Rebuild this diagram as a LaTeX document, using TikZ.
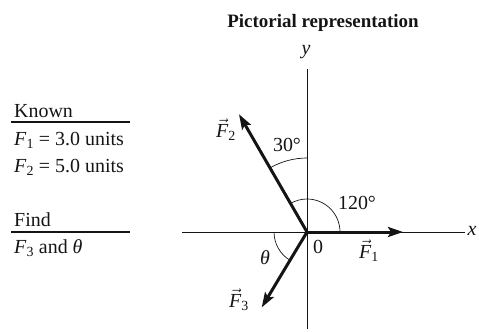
\documentclass[tikz,border=0pt]{standalone}
\usepackage{fontspec}
\setmainfont{Liberation Serif}
\usetikzlibrary{arrows.meta,positioning,calc}
\definecolor{ink}{RGB}{20,20,20}
\newcommand{\vF}[1]{$\vec{\mbox{\textit{F}}}$\textsubscript{#1}}
\tikzset{
  >={Stealth[length=15bp,width=10bp,inset=3bp]},
  force/.style={->,line width=3bp,draw=ink},
  axis/.style={draw=ink,line width=0.8bp},
  angle arc/.style={draw=ink,line width=0.7bp},
  rule/.style={draw=ink,line width=1.1bp},
  tag/.style={font=\fontsize{20}{23}\selectfont,text=ink,inner sep=0pt},
  head/.style={font=\fontsize{19}{22}\selectfont\bfseries,text=ink,inner sep=0pt},
}
\begin{document}
\begin{tikzpicture}[x=1bp,y=1bp]
    \useasboundingbox (0,0) rectangle (479,331);
    \node[head,anchor=base] (title) at (323,304) {Pictorial representation};
    % axes
    \coordinate (O) at (307,99);
    \coordinate (xl) at (182,99); \coordinate (xr) at (465,99);
    \coordinate (yt) at (307,262); \coordinate (yb) at (307,2);
    \draw[axis] (xl) -- (xr); \draw[axis] (yb) -- (yt);
    \node[tag,font=\fontsize{20}{23}\selectfont\itshape] (xlab) at (472,100) {x};
    \node[tag,font=\fontsize{20}{23}\selectfont\itshape] (ylab) at (306,279) {y};
    % forces
    \path (O) ++(0:96) coordinate (f1) (O) ++(120:136) coordinate (f2) (O) ++(239:88) coordinate (f3);
    \draw[angle arc] ($(O)+(0:33)$) arc (0:120:33);
    \draw[angle arc] ($(O)+(90:74)$) arc (90:120:74);
    \draw[angle arc] ($(O)+(180:33)$) arc (180:239:33);
    \draw[force] (O) -- (f1); \draw[force] (O) -- (f2); \draw[force] (O) -- (f3);
    \node[tag] (lf1) at (369,80) {\vF{1}};
    \node[tag] (lf2) at (226,201) {\vF{2}};
    \node[tag] (lf3) at (239,31) {\vF{3}};
    \node[tag] (a30) at (287,186) {30°};
    \node[tag] (a120) at (357,128) {120°};
    \node[tag] (zero) at (318,84) {0};
    \node[tag] (th) at (265,73) {\textit{θ}};
    % given / unknown
    \node[tag,anchor=base west] (known) at (14,214) {Known};
    \draw[rule] (11,209) -- (130,209);
    \node[tag,anchor=base west] (g1) at (14,186) {\textit{F}\textsubscript{1} = 3.0 units};
    \node[tag,anchor=base west] (g2) at (14,159) {\textit{F}\textsubscript{2} = 5.0 units};
    \node[tag,anchor=base west] (find) at (14,105) {Find};
    \draw[rule] (11,99) -- (130,99);
    \node[tag,anchor=base west] (u1) at (14,78) {\textit{F}\textsubscript{3} and \textit{θ}};
\end{tikzpicture}
\end{document}
